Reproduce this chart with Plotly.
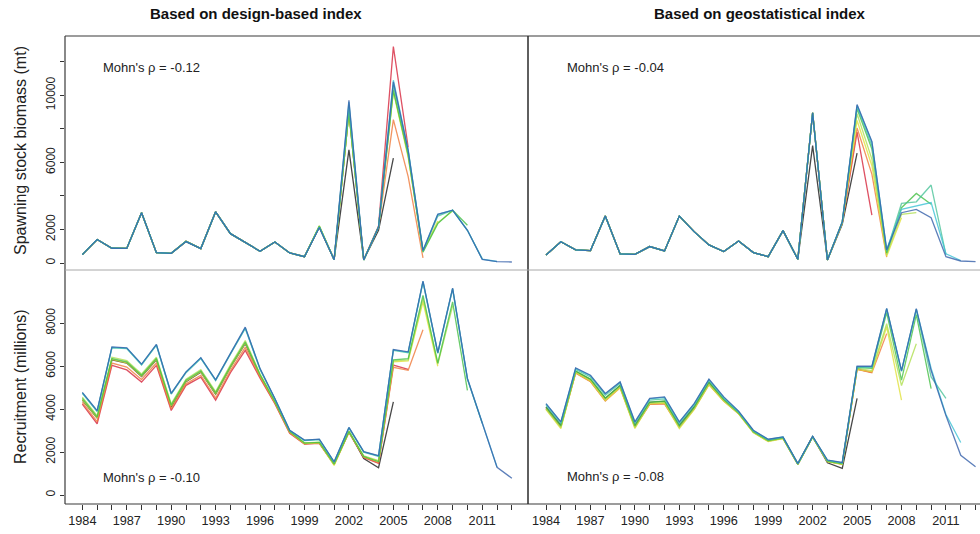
import plotly.graph_objects as go

# ---------------------------------------------------------------------------
# Retrospective runs: each run ends at a different terminal year (2005-2013)
# ---------------------------------------------------------------------------
years = list(range(1984, 2014))
terminal_years = [2005, 2006, 2007, 2008, 2009, 2010, 2011, 2012, 2013]
peel_colors = {
    2005: "#1a1a1a",
    2006: "#d7263d",
    2007: "#f07a3a",
    2008: "#e2e23c",
    2009: "#b0e050",
    2010: "#45c045",
    2011: "#4cc49a",
    2012: "#3cc3d6",
    2013: "#3560aa",
}

# Spawning stock biomass (mt), design-based index
ssb_design = {
    2013: [500, 1400, 880, 870, 3000, 620, 580, 1280, 860, 3050, 1750, 1200, 700, 1250, 600, 380, 2120, 200,
           9700, 180, 2150, 10800, 6700, 750, 2900, 3150, 1950, 220, 80, 60],
    2012: [500, 1400, 880, 870, 3000, 620, 580, 1280, 860, 3050, 1750, 1200, 700, 1250, 600, 380, 2130, 200,
           9600, 180, 2150, 10900, 6750, 750, 2900, 3150, 1950, 230, 90],
    2011: [500, 1400, 880, 870, 3000, 620, 580, 1290, 860, 3050, 1750, 1200, 700, 1250, 600, 380, 2150, 200,
           9400, 180, 2150, 10600, 6650, 700, 2800, 3150, 1950, 250],
    2010: [500, 1400, 880, 870, 3000, 620, 580, 1300, 860, 3050, 1750, 1200, 700, 1250, 600, 380, 2200, 200,
           9000, 180, 2150, 10300, 6450, 650, 2350, 3150, 2250],
    2009: [500, 1400, 880, 870, 3000, 620, 580, 1300, 860, 3050, 1750, 1200, 700, 1250, 600, 380, 2200, 200,
           9000, 180, 2150, 10300, 6400, 700, 2400, 3100],
    2008: [500, 1400, 880, 870, 3000, 620, 580, 1300, 860, 3050, 1750, 1200, 700, 1250, 600, 380, 2200, 200,
           9000, 180, 2150, 10200, 6300, 700, 2500],
    2007: [500, 1400, 880, 870, 3000, 620, 580, 1290, 860, 3050, 1750, 1200, 700, 1250, 600, 380, 2150, 200,
           9000, 200, 2150, 8550, 5150, 300],
    2006: [500, 1400, 880, 870, 3000, 620, 580, 1290, 860, 3050, 1750, 1200, 700, 1250, 600, 380, 2150, 200,
           9100, 200, 2200, 12900, 6900],
    2005: [500, 1400, 880, 870, 3000, 620, 580, 1280, 860, 3050, 1750, 1200, 700, 1250, 600, 380, 2150, 200,
           6750, 200, 1950, 6250],
}

# Spawning stock biomass (mt), geostatistical index
ssb_geo = {
    2013: [480, 1270, 780, 740, 2800, 540, 520, 980, 720, 2800, 1870, 1080, 680, 1310, 620, 380, 1930, 220,
           8950, 180, 2450, 9450, 7250, 780, 3000, 3200, 2700, 380, 120, 80],
    2012: [480, 1270, 780, 740, 2800, 540, 520, 980, 720, 2800, 1870, 1080, 680, 1310, 620, 380, 1930, 220,
           8950, 180, 2450, 9400, 7200, 800, 3200, 3400, 3600, 550, 150],
    2011: [480, 1270, 780, 740, 2800, 540, 520, 980, 720, 2800, 1870, 1080, 680, 1310, 620, 380, 1930, 220,
           8950, 180, 2450, 9300, 7000, 700, 3550, 3650, 4650, 500],
    2010: [480, 1270, 780, 740, 2800, 540, 520, 980, 720, 2800, 1870, 1080, 680, 1310, 620, 380, 1930, 220,
           8950, 180, 2450, 9200, 6800, 600, 3300, 4150, 3500],
    2009: [480, 1270, 780, 740, 2800, 540, 520, 980, 720, 2800, 1870, 1080, 680, 1310, 620, 380, 1930, 220,
           8950, 180, 2400, 8900, 6200, 500, 2900, 3000],
    2008: [480, 1270, 780, 740, 2800, 540, 520, 980, 720, 2800, 1870, 1080, 680, 1310, 620, 380, 1930, 220,
           8950, 180, 2400, 8500, 5800, 400, 2700],
    2007: [480, 1270, 780, 740, 2800, 540, 520, 980, 720, 2800, 1870, 1080, 680, 1310, 620, 380, 1930, 220,
           8950, 180, 2400, 8050, 5300, 350],
    2006: [480, 1270, 780, 740, 2800, 540, 520, 980, 720, 2800, 1870, 1080, 680, 1310, 620, 380, 1930, 220,
           8950, 180, 2400, 7800, 2850],
    2005: [480, 1270, 780, 740, 2800, 540, 520, 980, 720, 2800, 1870, 1080, 680, 1310, 620, 380, 1930, 220,
           7000, 180, 2300, 6550],
}

# Recruitment (millions), design-based index
rec_design = {
    2013: [4780, 3930, 6900, 6860, 6100, 7020, 4740, 5740, 6400, 5370, 6600, 7820, 5890, 4500, 3020, 2560, 2600,
           1550, 3150, 2020, 1830, 6780, 6670, 9970, 6640, 9640, 5430, 3330, 1290, 780],
    2012: [4760, 3910, 6880, 6840, 6080, 7000, 4720, 5720, 6380, 5350, 6580, 7790, 5870, 4480, 3010, 2550, 2590,
           1540, 3140, 2010, 1820, 6760, 6650, 9950, 6620, 9620, 5420, 3320, 1300],
    2011: [4740, 3890, 6860, 6820, 6060, 6980, 4700, 5700, 6360, 5330, 6560, 7760, 5850, 4470, 3000, 2540, 2580,
           1530, 3120, 2000, 1800, 6740, 6630, 9920, 6600, 9600, 5400, 3340],
    2010: [4500, 3640, 6360, 6200, 5580, 6360, 4190, 5350, 5780, 4760, 6000, 7130, 5600, 4350, 2950, 2420, 2450,
           1450, 2950, 1800, 1550, 6300, 6350, 9300, 6150, 9000, 4880],
    2009: [4560, 3700, 6420, 6260, 5640, 6420, 4250, 5400, 5840, 4820, 6060, 7200, 5640, 4380, 2970, 2430, 2460,
           1420, 2970, 1820, 1600, 6250, 6300, 9150, 6100, 8800],
    2008: [4450, 3600, 6320, 6160, 5540, 6320, 4150, 5300, 5740, 4720, 5960, 7080, 5580, 4330, 2940, 2400, 2430,
           1380, 2930, 1780, 1580, 6200, 6250, 9000, 6000],
    2007: [4320, 3420, 6150, 5960, 5380, 6150, 4020, 5180, 5580, 4520, 5800, 6880, 5500, 4280, 2900, 2380, 2420,
           1430, 2930, 1760, 1500, 5950, 5810, 7700],
    2006: [4230, 3320, 6040, 5830, 5260, 6040, 3940, 5110, 5490, 4420, 5700, 6740, 5440, 4250, 2880, 2370, 2410,
           1420, 2920, 1750, 1480, 6050, 5850],
    2005: [4420, 3580, 6300, 6150, 5520, 6300, 4100, 5280, 5720, 4700, 5940, 7050, 5560, 4320, 2980, 2400, 2440,
           1440, 2960, 1700, 1270, 4340],
}

# Recruitment (millions), geostatistical index
rec_geo = {
    2013: [4260, 3410, 5920, 5580, 4730, 5270, 3410, 4500, 4570, 3410, 4260, 5400, 4570, 3910, 3020, 2600, 2710,
           1470, 2740, 1630, 1520, 6000, 6000, 8700, 5800, 8680, 5800, 3700, 1850, 1320],
    2012: [4240, 3390, 5900, 5560, 4710, 5250, 3390, 4480, 4550, 3390, 4240, 5380, 4550, 3890, 3000, 2590, 2700,
           1460, 2730, 1620, 1500, 5980, 5980, 8680, 5780, 8660, 5900, 3750, 2450],
    2011: [4180, 3330, 5850, 5500, 4640, 5200, 3330, 4420, 4480, 3320, 4180, 5330, 4500, 3860, 2980, 2570, 2690,
           1450, 2720, 1610, 1490, 5960, 5950, 8650, 5760, 8640, 5500, 4500],
    2010: [4080, 3220, 5780, 5400, 4520, 5100, 3220, 4330, 4380, 3220, 4080, 5250, 4450, 3830, 2950, 2540, 2660,
           1440, 2710, 1580, 1460, 5940, 5900, 8500, 5350, 8400, 4960],
    2009: [4020, 3150, 5730, 5350, 4450, 5050, 3150, 4280, 4320, 3150, 4020, 5180, 4400, 3800, 2920, 2510, 2640,
           1430, 2700, 1560, 1440, 5900, 5800, 7980, 5100, 7050],
    2008: [3980, 3100, 5700, 5300, 4400, 5000, 3100, 4250, 4280, 3100, 3980, 5130, 4370, 3780, 2900, 2490, 2630,
           1420, 2690, 1550, 1420, 5850, 5740, 7830, 4420],
    2007: [4010, 3160, 5680, 5280, 4380, 5000, 3160, 4220, 4250, 3150, 4000, 5150, 4380, 3790, 2920, 2510, 2640,
           1430, 2700, 1560, 1430, 5850, 5700, 7520],
    2006: [4040, 3190, 5700, 5300, 4410, 5030, 3190, 4240, 4270, 3180, 4030, 5170, 4400, 3800, 2930, 2520, 2650,
           1440, 2710, 1570, 1440, 5870, 5720],
    2005: [4100, 3250, 5760, 5380, 4500, 5100, 3250, 4320, 4360, 3250, 4100, 5250, 4450, 3830, 2960, 2540, 2670,
           1450, 2720, 1500, 1240, 4500],
}

mohn_rho = {"ssb_design": "-0.12", "ssb_geo": "-0.04", "rec_design": "-0.10", "rec_geo": "-0.08"}

panel_titles = ["Based on design-based index", "Based on geostatistical index"]
ssb_ticks = [0, 2000, 4000, 6000, 8000, 10000, 12000]
ssb_tick_text = ["0", "2000", "", "6000", "", "10000", ""]
rec_ticks = [0, 2000, 4000, 6000, 8000]
year_tick_text = [str(y) if (y - 1984) % 3 == 0 else "" for y in years]

# ---------------------------------------------------------------------------
W, H = 980, 534
ML, MR, MT, MB = 65, 0, 36, 30
pw = W - ML - MR
ph = H - MT - MB


def px_x(p):
    return (p - ML) / pw


def px_y(p):
    return (H - MB - p) / ph


split_left = px_x(528)
split_right = px_x(529)

fig = go.Figure()

panels = [
    (ssb_design, "x", "y"),
    (ssb_geo, "x2", "y2"),
    (rec_design, "x3", "y3"),
    (rec_geo, "x4", "y4"),
]
for series, xa, ya in panels:
    for ty in terminal_years:
        vals = series[ty]
        fig.add_trace(go.Scatter(
            x=years[:len(vals)], y=vals, mode="lines",
            line=dict(color=peel_colors[ty], width=1.3),
            opacity=0.8, xaxis=xa, yaxis=ya, showlegend=False, hoverinfo="skip",
        ))

font_main = "Liberation Sans, Arial, sans-serif"
axis_col = "#333333"
tick_font = dict(size=12.7, color="#222")

common_x = dict(showgrid=False, zeroline=False, showline=False, tickmode="array", tickvals=years)
left_range = [1982.83, 2014.09]
right_range = [1982.85, 2013.30]

fig.update_layout(
    width=W, height=H,
    margin=dict(l=ML, r=MR, t=MT, b=MB),
    paper_bgcolor="white", plot_bgcolor="white",
    font=dict(family=font_main, color="#222222"),
    xaxis=dict(domain=[0, split_left], range=left_range, anchor="y", showticklabels=False, ticks="",
               **common_x),
    xaxis2=dict(domain=[split_right, 1], range=right_range, anchor="y2", showticklabels=False, ticks="",
                **common_x),
    xaxis3=dict(domain=[0, split_left], range=left_range, anchor="y3", ticks="outside", ticklen=5,
                tickcolor=axis_col, ticktext=year_tick_text, tickfont=tick_font, **common_x),
    xaxis4=dict(domain=[split_right, 1], range=right_range, anchor="y4", ticks="outside", ticklen=5,
                tickcolor=axis_col, ticktext=year_tick_text, tickfont=tick_font, **common_x),
    yaxis=dict(domain=[0.5, 1], range=[-417, 13536], anchor="x", showgrid=False, zeroline=False,
               tickmode="array", tickvals=ssb_ticks, ticktext=ssb_tick_text, ticks="outside", ticklen=4,
               tickcolor=axis_col, tickangle=-90, tickfont=dict(size=12, color="#222")),
    yaxis2=dict(domain=[0.5, 1], range=[-417, 13536], anchor="x2", showgrid=False, zeroline=False,
                showticklabels=False),
    yaxis3=dict(domain=[0, 0.5], range=[-419, 10484], anchor="x3", showgrid=False, zeroline=False,
                tickmode="array", tickvals=rec_ticks, ticks="outside", ticklen=4,
                tickcolor=axis_col, tickangle=-90, tickfont=dict(size=12, color="#222")),
    yaxis4=dict(domain=[0, 0.5], range=[-419, 10484], anchor="x4", showgrid=False, zeroline=False,
                showticklabels=False),
)

# Panel frames
line_dark = dict(color="#3a3a3a", width=1.2)
shapes = [
    dict(type="line", xref="paper", yref="paper", x0=0, x1=1, y0=1, y1=1, line=line_dark),
    dict(type="line", xref="paper", yref="paper", x0=0, x1=1, y0=0, y1=0, line=line_dark),
    dict(type="line", xref="paper", yref="paper", x0=0, x1=0, y0=0, y1=1, line=line_dark),
    dict(type="line", xref="paper", yref="paper", x0=split_left, x1=split_left, y0=0, y1=1,
         line=dict(color="#2a2a2a", width=1.5)),
    dict(type="line", xref="paper", yref="paper", x0=0, x1=1, y0=0.5, y1=0.5,
         line=dict(color="#a8a8a8", width=1)),
]
fig.update_layout(shapes=shapes)

annotations = [
    dict(text="<b>%s</b>" % panel_titles[0], x=px_x(256), y=px_y(14), xref="paper", yref="paper",
         showarrow=False, xanchor="center", yanchor="middle", font=dict(size=15, color="#111")),
    dict(text="<b>%s</b>" % panel_titles[1], x=px_x(760), y=px_y(14), xref="paper", yref="paper",
         showarrow=False, xanchor="center", yanchor="middle", font=dict(size=15, color="#111")),
    dict(text="Spawning stock biomass (mt)", x=px_x(20), y=px_y(151), xref="paper", yref="paper",
         showarrow=False, textangle=-90, xanchor="center", yanchor="middle",
         font=dict(size=16, color="#222")),
    dict(text="Recruitment (millions)", x=px_x(20), y=px_y(387), xref="paper", yref="paper",
         showarrow=False, textangle=-90, xanchor="center", yanchor="middle",
         font=dict(size=16, color="#222")),
]
for key, (px0, py0) in {
    "ssb_design": (101, 68), "ssb_geo": (565, 68),
    "rec_design": (101, 477), "rec_geo": (565, 476),
}.items():
    annotations.append(dict(
        text="Mohn's \u03c1 = %s" % mohn_rho[key], x=px_x(px0), y=px_y(py0), xref="paper", yref="paper",
        showarrow=False, xanchor="left", yanchor="middle", font=dict(size=13, color="#222"),
    ))
fig.update_layout(annotations=annotations)

fig.write_html("out.html")
